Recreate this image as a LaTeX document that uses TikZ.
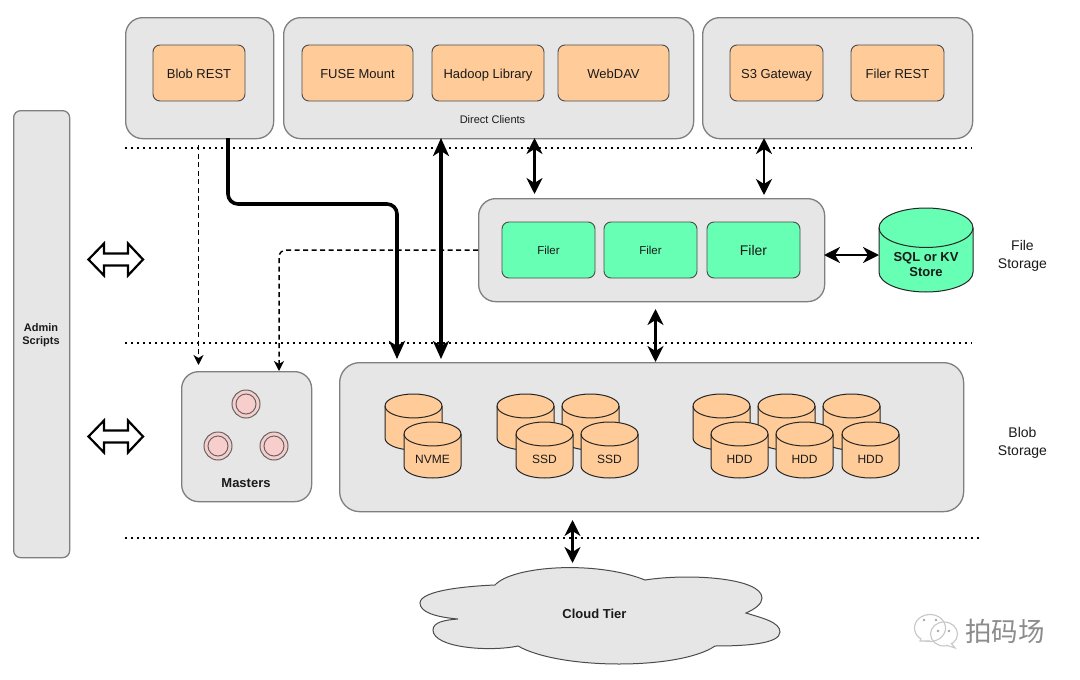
\documentclass[tikz,border=0pt]{standalone}
\usepackage{fontspec}
\setmainfont{Liberation Sans}
\newfontfamily\cjkfont{Noto Sans CJK SC}
\usetikzlibrary{arrows.meta,positioning}
\definecolor{panelfill}{HTML}{E6E6E6}
\definecolor{paneledge}{HTML}{7F7F7F}
\definecolor{orangefill}{HTML}{FFCC99}
\definecolor{greenfill}{HTML}{66FFB3}
\definecolor{pinkfill}{HTML}{F8CECC}
\definecolor{txt}{HTML}{1A1A1A}
\tikzset{
  panel/.style={draw=paneledge,fill=panelfill,line width=1.3pt,rounded corners=17pt,inner sep=0pt,anchor=north west},
  orangebox/.style={draw=black!70,fill=orangefill,line width=0.9pt,rounded corners=7pt,minimum height=56pt,inner sep=0pt,text height=10pt,text depth=0pt,font=\fontsize{13}{15}\selectfont,text=txt},
  filerbox/.style={draw=black!70,fill=greenfill,line width=0.9pt,rounded corners=7pt,minimum width=93pt,minimum height=56pt,inner sep=0pt,text=txt},
  sep/.style={line width=2.6pt,dash pattern=on 2.4pt off 3.6pt},
  heavy/.style={line width=3.6pt,rounded corners=10pt,-{Stealth[length=18pt,width=16pt,inset=5pt]}},
  heavyboth/.style={line width=3.6pt,{Stealth[length=18pt,width=16pt,inset=5pt]}-{Stealth[length=18pt,width=16pt,inset=5pt]}},
  midboth/.style={line width=2.8pt,{Stealth[length=16pt,width=16pt,inset=5pt]}-{Stealth[length=16pt,width=16pt,inset=5pt]}},
  dashedarrow/.style={line width=1.5pt,dash pattern=on 5pt off 3.5pt,rounded corners=7pt,-{Stealth[length=10pt,width=10pt,inset=3pt]}},
  hollow/.style={draw=black,fill=white,line width=2.2pt,line join=miter},
  lbl/.style={font=\fontsize{14}{18}\selectfont,text=txt,align=center},
}
% x, y top, w, h, fill, name, text, font
\newcommand{\drum}[8]{%
  \pgfmathsetmacro{\rx}{#3/2}\pgfmathsetmacro{\ry}{#3*0.21}%
  \pgfmathsetmacro{\cx}{#1+#3/2}\pgfmathsetmacro{\by}{#2+#4-\ry}\pgfmathsetmacro{\ty}{#2+\ry}%
  \draw[fill=#5,draw=black!85,line width=1pt]
    (#1,\ty) arc[start angle=180,end angle=360,x radius=\rx,y radius=\ry]
    -- (#1+#3,\by) arc[start angle=0,end angle=180,x radius=\rx,y radius=\ry] -- cycle;
  \draw[draw=black!85,line width=1pt] (#1,\ty) arc[start angle=180,end angle=0,x radius=\rx,y radius=\ry];
  \node[inner sep=0pt,align=center,text=txt,font=#8] (#6) at (\cx,#2+#4/2+\ry*0.75) {#7};%
}
\begin{document}
\begin{tikzpicture}[x=1pt,y=-1pt]
\useasboundingbox (0,0) rectangle (1080,680);
\fill[white] (0,0) rectangle (1080,680);

% Separators
\coordinate (s1a) at (125,148); \coordinate (s1b) at (972,148);
\coordinate (s2a) at (125,343); \coordinate (s2b) at (972,343);
\coordinate (s3a) at (125,538); \coordinate (s3b) at (982,538);
\draw[sep] (s1a) -- (s1b);
\draw[sep] (s2a) -- (s2b);
\draw[sep] (s3a) -- (s3b);

% Panels
\node[panel,minimum width=148pt,minimum height=121pt] (blobpanel) at (125,17) {};
\node[panel,minimum width=410pt,minimum height=121pt] (clientpanel) at (283,17) {};
\node[panel,minimum width=270pt,minimum height=121pt] (gatepanel) at (702,17) {};
\node[panel,minimum width=346pt,minimum height=103pt] (filerpanel) at (478,198) {};
\node[panel,minimum width=130pt,minimum height=130pt] (masterpanel) at (181,371) {};
\node[panel,minimum width=624pt,minimum height=149pt,rounded corners=20pt] (storepanel) at (339,362) {};
\node[panel,minimum width=56pt,minimum height=447pt,rounded corners=7pt] (adminpanel) at (13,110) {};
\node[font=\bfseries\fontsize{11}{13}\selectfont,align=center,text=txt] (adminlabel) at (41,335) {Admin\\Scripts};

% Client boxes
\node[orangebox,minimum width=92pt] (blobrest) at (199,73) {Blob REST};
\node[orangebox,minimum width=111pt] (fuse) at (357.5,73) {FUSE Mount};
\node[orangebox,minimum width=112pt] (hadoop) at (488,73) {Hadoop Library};
\node[orangebox,minimum width=111pt] (webdav) at (613.5,73) {WebDAV};
\node[orangebox,minimum width=93pt] (s3) at (776.5,73) {S3 Gateway};
\node[orangebox,minimum width=93pt] (filerrest) at (897.5,73) {Filer REST};
\node[font=\fontsize{11}{13}\selectfont,text=txt] (direct) at (492.5,119.5) {Direct Clients};

% Filers
\node[filerbox,font=\fontsize{11.5}{13}\selectfont] (filer1) at (548.5,250) {Filer};
\node[filerbox,font=\fontsize{11.5}{13}\selectfont] (filer2) at (650.5,250) {Filer};
\node[filerbox,font=\fontsize{14}{16}\selectfont] (filer3) at (753.5,250) {Filer};

% SQL store
\drum{879}{208}{94}{84}{greenfill}{sqlstore}{SQL or KV\\Store}{\bfseries\fontsize{13}{15}\selectfont}

% Masters
\foreach \n/\px/\py in {m1/246/404,m2/218/446,m3/274/446}{
  \node[circle,draw=black!60,fill=pinkfill,line width=1pt,minimum size=28pt,inner sep=0pt] (\n) at (\px,\py) {};
  \node[circle,draw=black!60,line width=1pt,minimum size=20pt,inner sep=0pt] (\n i) at (\px,\py) {};
}
\node[font=\bfseries\fontsize{13}{15}\selectfont,text=txt] (masterslabel) at (246,483.5) {Masters};

% Drums
\def\dfont{\fontsize{12}{14}\selectfont}
\drum{385}{394}{57}{56}{orangefill}{d1}{}{\dfont}
\drum{404}{422}{57}{56}{orangefill}{nvme}{NVME}{\dfont}
\drum{497}{394}{57}{56}{orangefill}{d2}{}{\dfont}
\drum{562}{394}{57}{56}{orangefill}{d3}{}{\dfont}
\drum{516}{422}{57}{56}{orangefill}{ssd1}{SSD}{\dfont}
\drum{581}{422}{57}{56}{orangefill}{ssd2}{SSD}{\dfont}
\drum{693}{394}{57}{56}{orangefill}{d4}{}{\dfont}
\drum{758}{394}{57}{56}{orangefill}{d5}{}{\dfont}
\drum{823}{394}{57}{56}{orangefill}{d6}{}{\dfont}
\drum{711}{422}{57}{56}{orangefill}{hdd1}{HDD}{\dfont}
\drum{776}{422}{57}{56}{orangefill}{hdd2}{HDD}{\dfont}
\drum{842}{422}{57}{56}{orangefill}{hdd3}{HDD}{\dfont}

% Cloud
\draw[fill=panelfill,draw=black!70,line width=1pt] (495,585)
  .. controls (512,566) and (595,560) .. (645,580)
  .. controls (690,573) and (762,578) .. (762,598)
  .. controls (762,604) and (755,609) .. (746,613)
  .. controls (762,618) and (780,622) .. (780,632)
  .. controls (780,644) and (745,646) .. (715,646)
  .. controls (680,670) and (560,670) .. (518,646)
  .. controls (490,652) and (433,648) .. (433,630)
  .. controls (433,622) and (445,620) .. (458,619)
  .. controls (435,617) and (420,612) .. (420,603)
  .. controls (420,590) and (470,586) .. (495,585) -- cycle;
\node[font=\bfseries\fontsize{13}{15}\selectfont,text=txt] (cloud) at (594.5,614) {Cloud Tier};

% Labels
\node[lbl] (filestorage) at (1022.5,255.5) {File\\Storage};
\node[lbl] (blobstorage) at (1022.5,442.5) {Blob\\Storage};

% Connectors
\coordinate (blobout) at (228,138);
\coordinate (blobin) at (397,359);
\draw[heavy] (blobout) -- (228,204) -- (397,204) -- (blobin);
\coordinate (dc1) at (441,138); \coordinate (dc2) at (441,359);
\draw[heavyboth] (dc1) -- (dc2);
\coordinate (w1) at (534.5,138); \coordinate (w2) at (534.5,194);
\draw[midboth] (w1) -- (w2);
\coordinate (g1) at (764,138); \coordinate (g2) at (764,195);
\draw[midboth] (g1) -- (g2);
\coordinate (f1) at (655.5,309); \coordinate (f2) at (655.5,362);
\draw[midboth] (f1) -- (f2);
\coordinate (q1) at (824,255); \coordinate (q2) at (879,255);
\draw[midboth,line width=2.2pt] (q1) -- (q2);
\coordinate (c1) at (572.5,520); \coordinate (c2) at (572.5,563);
\draw[midboth,line width=2.4pt] (c1) -- (c2);
\coordinate (bd1) at (198.5,145); \coordinate (bd2) at (198.5,365);
\draw[dashedarrow] (bd1) -- (bd2);
\coordinate (fd1) at (478,250); \coordinate (fd2) at (279,371);
\draw[dashedarrow] (fd1) -- (279,250) -- (fd2);

% Hollow double arrows
\foreach \yy in {259.5,436.5}{
  \draw[hollow] (88.5,\yy) -- (104,\yy-16) -- (104,\yy-6) -- (128,\yy-6) -- (128,\yy-16) -- (143,\yy)
    -- (128,\yy+16) -- (128,\yy+6) -- (104,\yy+6) -- (104,\yy+16) -- cycle;
}

% Watermark
\begin{scope}[draw=black!22,fill=white,line width=1.1pt]
  \draw (930,628) ellipse[x radius=15.5pt,y radius=13.5pt];
  \draw[fill=white] (921,638) -- (920,641) -- (930,641);
  \draw (944,634) ellipse[x radius=13.5pt,y radius=12pt];
  \fill[white] (950,642) -- (955,648) -- (945,645) -- cycle;
  \draw (951,643) -- (955,648) -- (946,645);
\end{scope}
\foreach \px/\py/\r in {924/620/1.3,936/620/1.3,938/631/1.3,949/631/1.3}
  \fill[black!35] (\px,\py) circle[radius=\r pt];
\node[font=\cjkfont\fontsize{26.5}{28}\selectfont,text=black!45] (wm) at (1005,631) {拍码场};
\end{tikzpicture}
\end{document}
